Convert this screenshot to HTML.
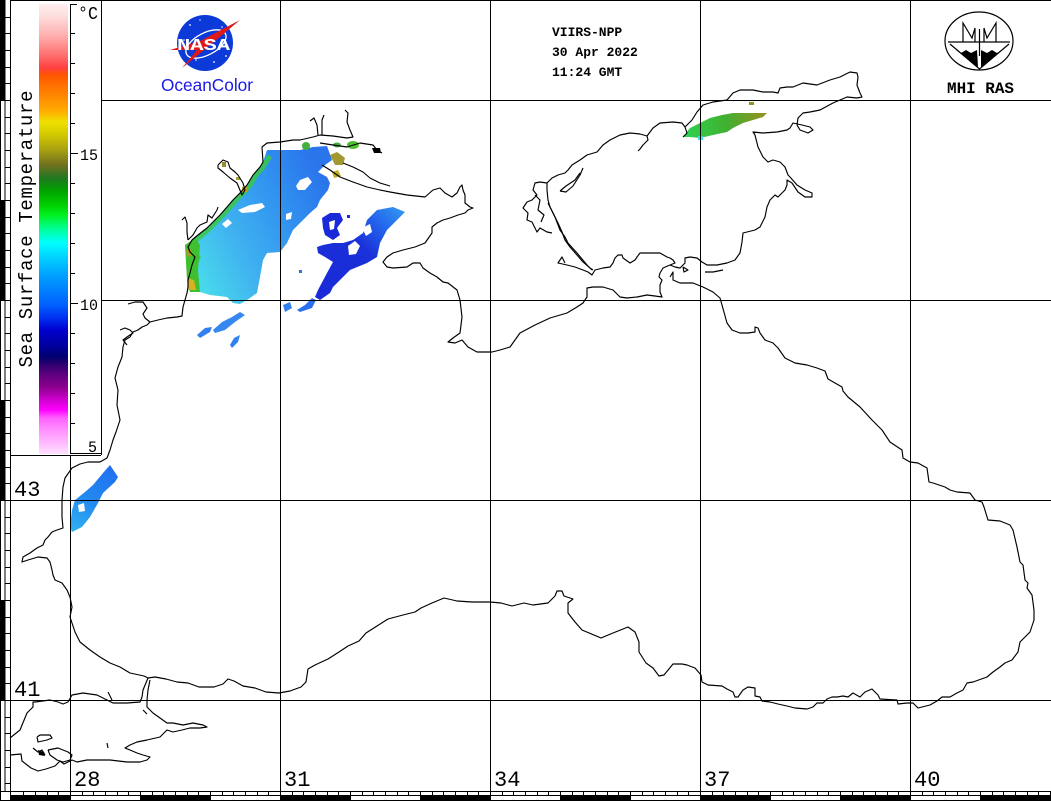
<!DOCTYPE html>
<html><head><meta charset="utf-8"><style>
html,body{margin:0;padding:0;background:#fff;}
svg{display:block;}
text{font-family:"Liberation Mono",monospace;}
</style></head><body>
<svg width="1051" height="801" viewBox="0 0 1051 801" xmlns="http://www.w3.org/2000/svg">
<defs>
<linearGradient id="cb" x1="0" y1="0" x2="0" y2="1">
<stop offset="0" stop-color="#ffeeee"/>
<stop offset="0.024" stop-color="#fde0e0"/>
<stop offset="0.069" stop-color="#ffb0b0"/>
<stop offset="0.113" stop-color="#ff7070"/>
<stop offset="0.142" stop-color="#ff4040"/>
<stop offset="0.158" stop-color="#ff5500"/>
<stop offset="0.18" stop-color="#ff7000"/>
<stop offset="0.213" stop-color="#ff9000"/>
<stop offset="0.24" stop-color="#ffb000"/>
<stop offset="0.262" stop-color="#f0e000"/>
<stop offset="0.291" stop-color="#d0c800"/>
<stop offset="0.324" stop-color="#a8a010"/>
<stop offset="0.358" stop-color="#707020"/>
<stop offset="0.387" stop-color="#207820"/>
<stop offset="0.413" stop-color="#00a000"/>
<stop offset="0.447" stop-color="#00d000"/>
<stop offset="0.469" stop-color="#00f020"/>
<stop offset="0.498" stop-color="#00ff90"/>
<stop offset="0.531" stop-color="#00ffff"/>
<stop offset="0.564" stop-color="#00d0ff"/>
<stop offset="0.596" stop-color="#00a8ff"/>
<stop offset="0.636" stop-color="#0080ff"/>
<stop offset="0.669" stop-color="#0060ff"/>
<stop offset="0.698" stop-color="#0030f0"/>
<stop offset="0.724" stop-color="#0000d0"/>
<stop offset="0.758" stop-color="#0000a0"/>
<stop offset="0.784" stop-color="#000070"/>
<stop offset="0.802" stop-color="#300070"/>
<stop offset="0.824" stop-color="#600080"/>
<stop offset="0.853" stop-color="#900090"/>
<stop offset="0.88" stop-color="#d000d0"/>
<stop offset="0.902" stop-color="#ff00ff"/>
<stop offset="0.92" stop-color="#ff60ff"/>
<stop offset="0.947" stop-color="#ff90ff"/>
<stop offset="1" stop-color="#ffe0ff"/>
</linearGradient>
<linearGradient id="gNW" gradientUnits="userSpaceOnUse" x1="190" y1="260" x2="330" y2="190">
<stop offset="0" stop-color="#48d8ec"/>
<stop offset="0.3" stop-color="#40b4f0"/>
<stop offset="0.7" stop-color="#3090f0"/>
<stop offset="1" stop-color="#2a74ec"/>
</linearGradient>
<linearGradient id="gDB" gradientUnits="userSpaceOnUse" x1="320" y1="295" x2="400" y2="212">
<stop offset="0" stop-color="#1a2ad8"/>
<stop offset="0.55" stop-color="#1a30d8"/>
<stop offset="0.8" stop-color="#2464ec"/>
<stop offset="1" stop-color="#3090f0"/>
</linearGradient>
<linearGradient id="gAZ" gradientUnits="userSpaceOnUse" x1="685" y1="130" x2="767" y2="113">
<stop offset="0" stop-color="#30d050"/>
<stop offset="0.5" stop-color="#40b030"/>
<stop offset="1" stop-color="#9a9020"/>
</linearGradient>
<linearGradient id="gSW" gradientUnits="userSpaceOnUse" x1="72" y1="530" x2="115" y2="470">
<stop offset="0" stop-color="#30b0f0"/>
<stop offset="0.5" stop-color="#2288f0"/>
<stop offset="1" stop-color="#2070f0"/>
</linearGradient>
</defs>
<rect width="1051" height="801" fill="#fff"/>

<!-- data patches -->
<g>
<polygon fill="url(#gNW)" points="267,150 290,150 300,150 313,147 327,146 332,160 325,165 318,172 327,177 330,183 328,190 320,200 317,207 310,213 303,220 293,230 287,243 280,252 267,253 263,260 260,277 257,293 247,300 240,304 233,303 227,297 210,295 200,292 190,292 188,287 188,280 190,273 192,265 195,257 190,252 188,247 192,240 198,235 207,228 213,222 220,215 227,207 233,200 240,193 247,185 253,175 260,167 263,162"/>
<polygon fill="#fff" points="296,186 300,180 308,177 312,182 305,190 298,190"/>
<polygon fill="#fff" points="238,210 250,205 262,203 265,207 255,212 242,213"/>
<polygon fill="#fff" points="222,224 228,219 232,223 226,228"/>
<polygon fill="#fff" points="286,214 292,212 291,219 286,220"/>
<polyline fill="none" stroke="#38c848" stroke-width="5" stroke-opacity="0.85" points="191,290 191,280 193,273 195,265 198,257 194,252 192,247 196,240 202,235 210,228 216,222 223,215 230,207 236,200 243,193 250,185 256,175 263,167 266,162 270,156"/>
<polygon fill="#40c030" points="185,245 195,238 200,245 198,270 200,292 190,292 187,280"/>
<polygon fill="#d8b020" points="187,278 194,280 196,290 189,290"/>
<polygon fill="#a0a020" points="186,250 191,249 192,256 187,257"/>
<polygon fill="#3080f0" points="197,335 205,328 212,327 210,332 200,338"/>
<polygon fill="#3688f0" points="213,330 222,322 232,317 240,312 245,315 235,322 225,330 215,333"/>
<polygon fill="#3080f0" points="230,345 234,338 240,335 238,342 232,348"/>
<polygon fill="#3080f0" points="283,305 290,302 292,308 285,312"/>
<polygon fill="#2a70f0" points="297,310 305,305 312,298 316,300 312,308 300,312"/>
<polygon fill="url(#gDB)" points="317,247 323,245 333,243 343,243 353,240 363,233 367,220 377,210 393,207 405,212 397,220 387,230 380,243 377,257 367,263 350,270 340,280 333,287 330,293 320,300 315,297 318,290 327,273 333,262 325,257 318,253"/>
<polygon fill="#fff" points="348,246 355,241 360,246 356,254 349,255"/>
<polygon fill="#fff" points="362,228 370,224 372,232 366,236"/>
<polygon fill="#1a2ad8" points="322,218 330,213 340,213 343,220 337,228 340,235 333,240 325,235 323,228"/>
<polygon fill="#fff" points="329,222 335,220 334,229 330,230"/>
<rect x="299" y="270" width="3" height="3" fill="#2a70f0"/>
<rect x="347" y="215" width="3" height="3" fill="#1a2ad8"/>
<polygon fill="url(#gAZ)" points="683,137 690,128 700,123 710,118 722,115 733,113 753,113 767,113 763,117 753,120 743,123 733,128 727,132 713,135 700,138 690,137"/>
<rect x="698" y="136" width="5" height="4" fill="#40e0e0"/>
<rect x="749" y="102" width="5" height="3" fill="#9a9020"/>
<polygon fill="url(#gSW)" points="110,465 118,477 115,482 103,493 98,503 90,517 82,527 72,532 70,527 72,510 75,500 85,492 93,485 103,473"/>
<polygon fill="#fff" points="78,505 84,503 85,511 79,512"/>
<ellipse cx="306" cy="146" rx="4" ry="4" fill="#40b040"/>
<ellipse cx="337" cy="145" rx="4" ry="2.5" fill="#40b040"/>
<ellipse cx="353" cy="145" rx="6" ry="4" fill="#50c030"/>
<polygon fill="#a09830" points="330,155 337,152 345,158 343,165 335,165"/>
<polygon fill="#c0b020" points="332,172 338,170 341,176 334,178"/>
<rect x="222" y="162" width="4" height="5" fill="#909030"/>
<rect x="236" y="177" width="4" height="3" fill="#a0a030"/>
<rect x="242" y="187" width="5" height="5" fill="#c0a020"/>
</g>

<!-- coastlines -->
<g fill="none" stroke="#000" stroke-width="1.15" stroke-linejoin="round">
<polyline points="313,137 300,140 293,140 280,142 267,143 262,147 263,162 260,167 253,175 247,185 240,193 233,200 227,207 220,215 213,222 207,228 198,235 192,240 188,247 190,252 195,257 192,265 190,273 188,280 188,287 187,293 185,300 183,307 182,316 177,317 167,318 158,320 150,322 147,325 142,327 138,330 133,332 130,337 125,340 123,347 122,357 118,367 115,378 118,390 117,405 120,420 116,432 113,440 110,450 107,458 100,462 88,462 80,464 72,468 65,478 63,487 62,500 62,517 63,528 57,530 52,532 48,537 45,540 43,545 37,548 30,553 23,557 22,562 28,560 38,557 47,558 50,562 52,570 53,575 55,580 62,583 67,590 70,597 72,607 70,617 72,623 75,632 80,642 90,650 100,657 110,663 120,667 130,673 144,676 148,678 155,677 166,679 177,682 188,683 199,687 214,687 223,684 228,679 234,681 243,686 255,688 266,692 279,693 290,691 301,687 306,682 308,669 315,665 328,659 339,652 348,646 359,641 366,633 377,626 388,619 403,615 415,612 421,608 432,603 444,598 457,601 472,602 490,602 501,603 512,606 524,603 533,605 548,603 555,596 557,591 562,591 564,596 570,598 573,599 568,603 568,613 575,622 582,630 601,638 613,633 628,627 635,632 639,642 639,652 646,663 653,668 659,676 664,675 673,664 682,664 687,665 695,668 701,675 702,682 708,685 722,686 727,689 733,692 735,697 738,697 743,690 748,687 755,688 755,696 760,697 762,701 770,702 778,704 787,706 795,708 807,709 813,707 817,703 823,703 827,699 832,697 837,697 843,696 848,697 853,693 860,697 865,692 872,689 878,695 880,699 897,700 898,704 907,703 913,703 915,705 918,708 930,705 937,701 942,697 950,697 957,693 963,690 967,683 973,682 987,677 993,672 1000,667 1005,663 1012,660 1018,652 1020,642 1025,637 1030,632 1034,620 1034,610 1032,595 1027,588 1028,583 1025,580 1023,565 1020,562 1017,547 1013,530 1010,525 1000,521 988,520 984,507 982,502 975,500 970,493 957,492 950,490 945,487 933,483 929,482 927,468 918,463 910,462 903,458 902,450 890,442 882,430 872,420 860,407 848,397 843,391 842,387 835,383 828,379 825,371 817,368 807,365 795,363 785,358 778,348 773,343 765,340 760,333 758,328 755,327 755,332 748,333 740,333 732,330 727,323 722,305 720,298 713,292 703,287 693,283 680,283 673,280 673,272 670,277"/>
<polyline points="670,265 663,268 660,273 659,277 662,280 660,285 660,292 662,297 655,296 647,295 637,297 627,298 620,297 613,290 603,287 593,287 587,288 587,297 583,303 577,307 567,313 550,318 535,325 520,333 510,347 500,350 492,352 477,352 468,347 462,340 455,343 448,342 453,338 460,333 462,317 460,300 457,290 448,283 443,282 437,277 430,273 423,268 420,263 413,263 407,267 393,268 387,267 383,262 387,257 393,253 403,250 415,247 425,243 432,233 432,227 437,223 443,220 450,218 458,215 465,213 468,210 473,208 470,207 465,203 465,195 463,190 462,185 460,187 457,193 452,197 445,193 440,188 433,190 425,197 407,195 390,192 380,190 367,187 353,182 340,177 330,170 322,165"/>
<polyline points="670,265 675,263 673,260 670,258 667,257 660,253 650,253 640,253 637,257 635,260 630,263 623,258 622,255 618,255 615,258 613,263 610,267 603,268 595,270 592,275 588,272 583,270 575,267 567,265 558,263 562,257 565,263"/>
<polyline points="547,183 547,190 548,200 550,207 553,213 558,223 562,232 565,240 570,247 577,255 583,262 590,268 593,270"/>
<polyline points="548,203 555,217 560,230 565,237 568,243 577,253 587,265 592,270"/>
<polyline points="547,183 540,182 535,183 533,190 537,195 532,200 527,202 523,208 528,213 527,220 532,222 537,232 540,228 547,232 552,233"/>
<polyline points="535,195 540,200 538,210 544,215 541,222"/>
<polyline points="547,183 552,178 558,175 565,173 568,170 572,165 580,160 587,155 597,152 603,145 610,140 620,135 630,133 640,134 647,136 648,140 643,145 640,149 638,151"/>
<polyline points="647,136 653,128 660,123 673,122 682,123 685,127 687,133 683,137"/>
<polyline points="685,127 692,120 697,112 703,105 713,102 727,100 733,93 740,90 753,90 763,92 773,92 778,93 780,88 787,87 793,87 803,83 817,85 830,80 840,77 850,72 857,73 858,77 857,85 860,93 862,97 857,98 847,97 840,100 833,103 820,110 810,112 803,113 798,118 797,125 800,130 808,133 813,130 810,127 802,125 793,123 790,128 787,130 777,132 763,133 753,132 755,135 758,147 763,157 768,162 773,160 780,162 785,167 788,175 790,177 797,185 805,190 812,193 812,197 805,197 798,192 792,183 787,180 787,185 785,190 782,193 778,197 775,195 770,200 767,207 765,217 760,227 755,230 743,233 742,242 740,253 735,260 727,263 717,265 707,265 702,262 697,258 690,257 685,258 685,263 680,268 675,267 670,265"/>
<polyline points="560,191 566,192 573,186 580,175 583,168"/>
<polyline points="560,191 566,186 575,180 580,173"/>
<polyline points="683,267 688,270 684,272 683,267"/>
<polyline points="705,272 713,272 723,270"/>
<polyline points="318,135 317,125 314,118 310,121"/>
<polyline points="313,137 320,135 333,136 347,138 353,137 350,130 347,122 348,113 345,110"/>
<polyline points="322,135 322,120 324,115"/>
<polyline points="320,143 333,145 347,147 360,143 373,145 377,150 382,153"/>
<polyline points="343,163 353,167 363,172 370,178 380,183 390,186"/>
<polyline points="128,304 135,302 143,302 147,308 143,314 145,318 150,322"/>
<polyline points="120,330 125,328 130,330 133,333 127,337 123,340 127,345"/>
<polyline points="182,220 185,217 187,223 187,232 188,240"/>
<polyline points="188,240 193,235 197,228 200,225 207,222 208,215 212,218 217,210 218,207"/>
<polyline points="218,165 223,160 228,162 230,168 235,172 238,175 243,183 245,190 242,195 237,183 230,178 223,172 218,168 218,165"/>
<polyline points="10,738 20,730 27,713 33,707 33,702 35,702 50,700 58,702 63,704 68,702 72,695 83,693 97,695 107,700 113,703 127,703 140,702 142,697 143,690 148,678"/>
<polyline points="150,680 148,690 147,700 147,707 153,713 160,718 167,723 173,723 183,725 193,723 203,725 207,727 200,728 190,728 182,730 173,732 167,730 160,737 147,740 137,742 130,745 125,748 130,750 137,753 143,755 150,757 147,760 140,762 127,762 110,760 97,760 87,760 77,762 72,760 64,764 60,761 55,766 46,769 38,771 31,768 22,761 21,754 10,755"/>
<polyline points="37,737 40,735 50,735 52,738 47,740 38,742 37,737"/>
<polyline points="48,750 58,748 68,752 72,755 70,760 63,762 57,760 50,755 48,750"/>
<polyline points="33,748 38,752 42,750 45,755"/>
<polyline points="107,743 108,748"/>
<polyline points="108,692 112,700"/>
<polyline points="143,710 147,714"/>
</g>
<polygon points="372,148 380,148 381,153 374,153" fill="#000"/>
<polygon points="38,750 44,752 45,756 39,755" fill="#000"/>

<!-- grid and frame -->
<g stroke="#000" stroke-width="1" shape-rendering="crispEdges" fill="none">
<line x1="10.5" y1="0" x2="10.5" y2="791"/>
<line x1="70.5" y1="455" x2="70.5" y2="791"/>
<line x1="101.5" y1="0" x2="101.5" y2="455"/>
<line x1="280.5" y1="0" x2="280.5" y2="791"/>
<line x1="490.5" y1="0" x2="490.5" y2="791"/>
<line x1="700.5" y1="0" x2="700.5" y2="791"/>
<line x1="910.5" y1="0" x2="910.5" y2="791"/>
<line x1="10" y1="0.5" x2="1051" y2="0.5"/>
<line x1="101" y1="100.5" x2="1051" y2="100.5"/>
<line x1="101" y1="300.5" x2="1051" y2="300.5"/>
<line x1="10" y1="455.5" x2="101" y2="455.5"/>
<line x1="10" y1="500.5" x2="1051" y2="500.5"/>
<line x1="10" y1="700.5" x2="1051" y2="700.5"/>
<line x1="0" y1="791.5" x2="1051" y2="791.5"/>
<rect x="0.5" y="791.5" width="10" height="9"/>
</g>

<!-- left scale bar -->
<g shape-rendering="crispEdges" stroke="#000" stroke-width="1">
<rect x="0.5" y="0.5" width="4.5" height="100" fill="#000"/>
<rect x="0.5" y="100.5" width="4.5" height="100" fill="#fff"/>
<rect x="0.5" y="200.5" width="4.5" height="100" fill="#000"/>
<rect x="0.5" y="300.5" width="4.5" height="100" fill="#fff"/>
<rect x="0.5" y="400.5" width="4.5" height="100" fill="#000"/>
<rect x="0.5" y="500.5" width="4.5" height="100" fill="#fff"/>
<rect x="0.5" y="600.5" width="4.5" height="100" fill="#000"/>
<rect x="0.5" y="700.5" width="4.5" height="91" fill="#fff"/>
<path fill="none" d="M5,17.5H10M5,33.5H10M5,50.5H10M5,67.5H10M5,83.5H10M5,100.5H10M5,117.5H10M5,133.5H10M5,150.5H10M5,167.5H10M5,183.5H10M5,200.5H10M5,217.5H10M5,233.5H10M5,250.5H10M5,267.5H10M5,283.5H10M5,300.5H10M5,317.5H10M5,333.5H10M5,350.5H10M5,367.5H10M5,383.5H10M5,400.5H10M5,417.5H10M5,433.5H10M5,450.5H10M5,467.5H10M5,483.5H10M5,500.5H10M5,517.5H10M5,533.5H10M5,550.5H10M5,567.5H10M5,583.5H10M5,600.5H10M5,617.5H10M5,633.5H10M5,650.5H10M5,667.5H10M5,683.5H10M5,700.5H10M5,717.5H10M5,733.5H10M5,750.5H10M5,767.5H10M5,783.5H10"/>
</g>

<!-- bottom scale bar -->
<g shape-rendering="crispEdges" stroke="#000" stroke-width="1">
<rect x="10.5" y="795.5" width="60" height="5" fill="#000"/>
<rect x="70.5" y="795.5" width="70" height="5" fill="#fff"/>
<rect x="140.5" y="795.5" width="70" height="5" fill="#000"/>
<rect x="210.5" y="795.5" width="70" height="5" fill="#fff"/>
<rect x="280.5" y="795.5" width="70" height="5" fill="#000"/>
<rect x="350.5" y="795.5" width="70" height="5" fill="#fff"/>
<rect x="420.5" y="795.5" width="70" height="5" fill="#000"/>
<rect x="490.5" y="795.5" width="70" height="5" fill="#fff"/>
<rect x="560.5" y="795.5" width="70" height="5" fill="#000"/>
<rect x="630.5" y="795.5" width="70" height="5" fill="#fff"/>
<rect x="700.5" y="795.5" width="70" height="5" fill="#000"/>
<rect x="770.5" y="795.5" width="70" height="5" fill="#fff"/>
<rect x="840.5" y="795.5" width="70" height="5" fill="#000"/>
<rect x="910.5" y="795.5" width="70" height="5" fill="#fff"/>
<rect x="980.5" y="795.5" width="70" height="5" fill="#000"/>
<path fill="none" d="M23.5,791V795M35.5,791V795M47.5,791V795M58.5,791V795M70.5,791V795M82.5,791V795M93.5,791V795M105.5,791V795M117.5,791V795M128.5,791V795M140.5,791V795M152.5,791V795M163.5,791V795M175.5,791V795M187.5,791V795M198.5,791V795M210.5,791V795M222.5,791V795M233.5,791V795M245.5,791V795M257.5,791V795M268.5,791V795M280.5,791V795M292.5,791V795M303.5,791V795M315.5,791V795M327.5,791V795M338.5,791V795M350.5,791V795M362.5,791V795M373.5,791V795M385.5,791V795M397.5,791V795M408.5,791V795M420.5,791V795M432.5,791V795M443.5,791V795M455.5,791V795M467.5,791V795M478.5,791V795M490.5,791V795M502.5,791V795M513.5,791V795M525.5,791V795M537.5,791V795M548.5,791V795M560.5,791V795M572.5,791V795M583.5,791V795M595.5,791V795M607.5,791V795M618.5,791V795M630.5,791V795M642.5,791V795M653.5,791V795M665.5,791V795M677.5,791V795M688.5,791V795M700.5,791V795M712.5,791V795M723.5,791V795M735.5,791V795M747.5,791V795M758.5,791V795M770.5,791V795M782.5,791V795M793.5,791V795M805.5,791V795M817.5,791V795M828.5,791V795M840.5,791V795M852.5,791V795M863.5,791V795M875.5,791V795M887.5,791V795M898.5,791V795M910.5,791V795M922.5,791V795M933.5,791V795M945.5,791V795M957.5,791V795M968.5,791V795M980.5,791V795M992.5,791V795M1003.5,791V795M1015.5,791V795M1027.5,791V795M1038.5,791V795M1050.5,791V795"/>
</g>

<!-- colorbar -->
<rect x="39" y="4" width="29" height="450" fill="url(#cb)"/>
<g stroke="#000" stroke-width="1" shape-rendering="crispEdges" fill="none">
<path d="M70.5,4V454M70,4.5H77M70,453.5H101M70,423.5H75M70,393.5H75M70,363.5H75M70,333.5H75M70,303.5H78M70,273.5H75M70,243.5H75M70,213.5H75M70,183.5H75M70,153.5H78M70,123.5H75M70,93.5H75M70,63.5H75M70,33.5H75"/>
</g>
<text x="80" y="160" font-size="16" textLength="18" lengthAdjust="spacingAndGlyphs">15</text>
<text x="80" y="310" font-size="16" textLength="18" lengthAdjust="spacingAndGlyphs">10</text>
<text x="88" y="452" font-size="16" textLength="9" lengthAdjust="spacingAndGlyphs">5</text>
<text x="78" y="19" font-size="18" textLength="20" lengthAdjust="spacingAndGlyphs">°C</text>
<text transform="translate(32,229) rotate(-90)" text-anchor="middle" font-size="19" textLength="277" lengthAdjust="spacing">Sea Surface Temperature</text>

<!-- axis labels -->
<g font-size="22">
<text x="14" y="496">43</text>
<text x="14" y="696">41</text>
<text x="74" y="786">28</text>
<text x="284" y="786">31</text>
<text x="494" y="786">34</text>
<text x="704" y="786">37</text>
<text x="914" y="786">40</text>
</g>

<!-- header text -->
<g font-size="13" font-weight="bold">
<text x="552" y="36">VIIRS-NPP</text>
<text x="552" y="56">30 Apr 2022</text>
<text x="552" y="76">11:24 GMT</text>
</g>

<!-- NASA logo -->
<circle cx="205" cy="43" r="28" fill="#0b3ad8"/>
<ellipse cx="206" cy="44" rx="22" ry="11" fill="none" stroke="#fff" stroke-width="1.3" transform="rotate(-28 206 44)"/>
<g fill="#fff">
<circle cx="190" cy="25" r="0.9"/><circle cx="222" cy="27" r="0.8"/><circle cx="214" cy="62" r="0.9"/><circle cx="196" cy="60" r="0.8"/><circle cx="184" cy="40" r="0.8"/><circle cx="226" cy="56" r="0.9"/><circle cx="200" cy="20" r="0.7"/>
</g>
<polygon points="170,50 200,41 240,20 215,41 182,68 197,50" fill="#e01818"/>
<text x="177" y="50" font-family="Liberation Serif, serif" font-size="17" font-weight="bold" fill="#fff" textLength="53" lengthAdjust="spacingAndGlyphs">NASA</text>
<text x="161" y="91" font-family="Liberation Sans, sans-serif" font-size="17.5" fill="#1a1ae6" textLength="92" lengthAdjust="spacingAndGlyphs" style="font-family:'Liberation Sans',sans-serif">OceanColor</text>

<!-- MHI RAS logo -->
<ellipse cx="979" cy="41" rx="34" ry="29" fill="none" stroke="#000" stroke-width="1.2"/>
<g fill="none" stroke="#000" stroke-width="1.2">
<line x1="948" y1="42" x2="1010" y2="42"/>
<polyline points="950,44 979.5,69 1009,44"/>
<line x1="979.5" y1="29" x2="979.5" y2="56"/>
<polyline points="963,42 963,23 972,38 975,28 975,42"/>
<polyline points="996,42 996,23 987,38 984,28 984,42"/>
</g>
<polygon points="956,50 961,53 966,50 971,53 977,50 978,67" fill="#000"/>
<polygon points="981,67 981,50 987,53 992,50 997,53 1002,50" fill="#000"/>
<text x="947" y="93" font-size="16" font-weight="bold" textLength="67" lengthAdjust="spacingAndGlyphs">MHI RAS</text>
</svg>
</body></html>
